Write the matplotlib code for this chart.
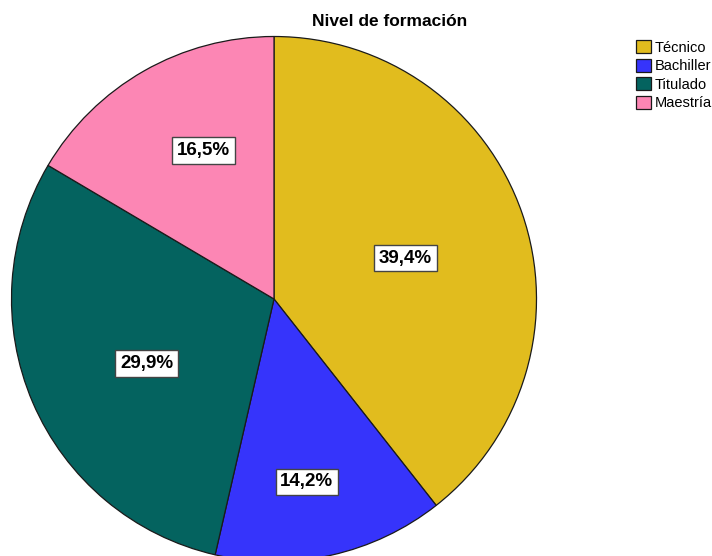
import matplotlib
matplotlib.use("Agg")
import matplotlib.pyplot as plt
import numpy as np

plt.rcParams['font.family'] = ['Liberation Sans', 'DejaVu Sans']

categorias = ["Técnico", "Bachiller", "Titulado", "Maestría"]
porcentajes = [39.4, 14.2, 29.9, 16.5]
etiquetas = ["39,4%", "14,2%", "29,9%", "16,5%"]
colores = ["#E1BC1E", "#3634FB", "#04635F", "#FC86B4"]
# label placement: fraction of radius and small angle shift from the wedge middle
dist_etiqueta = [0.525, 0.708, 0.544, 0.626]
giro_etiqueta = [-1.8, -2.4, 3.7, -4.3]

W, H = 712, 556
fig = plt.figure(figsize=(W / 100, H / 100), dpi=100)
cx, cy, R = 274, 299, 262.5
ax = fig.add_axes([(cx - R) / W, (H - cy - R) / H, 2 * R / W, 2 * R / H])

wedges, _ = ax.pie(porcentajes, colors=colores, startangle=90, counterclock=False,
                   radius=1.0, wedgeprops=dict(edgecolor="#1a1a1a", linewidth=0.9))
ax.set_xlim(-1, 1)
ax.set_ylim(-1, 1)
ax.set_aspect("equal")
ax.axis("off")

for w, txt, d, g in zip(wedges, etiquetas, dist_etiqueta, giro_etiqueta):
    ang = np.deg2rad((w.theta1 + w.theta2) / 2 + g)
    ax.text(d * np.cos(ang), d * np.sin(ang), txt, ha="center", va="center",
            fontsize=13.5, fontweight="bold", color="black",
            bbox=dict(boxstyle="square,pad=0.25", facecolor="white",
                      edgecolor="#444444", linewidth=1))

fig.text(390 / W, 1 - 22 / H, "Nivel de formación", ha="center", va="center",
         fontsize=12.5, fontweight="bold")

fig.legend(wedges, categorias, loc="upper left",
           bbox_to_anchor=(636 / W, 1 - 40 / H), frameon=False, fontsize=10.5,
           handlelength=1.0, handleheight=1.0, handletextpad=0.3,
           labelspacing=0.28, borderpad=0, borderaxespad=0)

fig.savefig("out.png", dpi=100)
